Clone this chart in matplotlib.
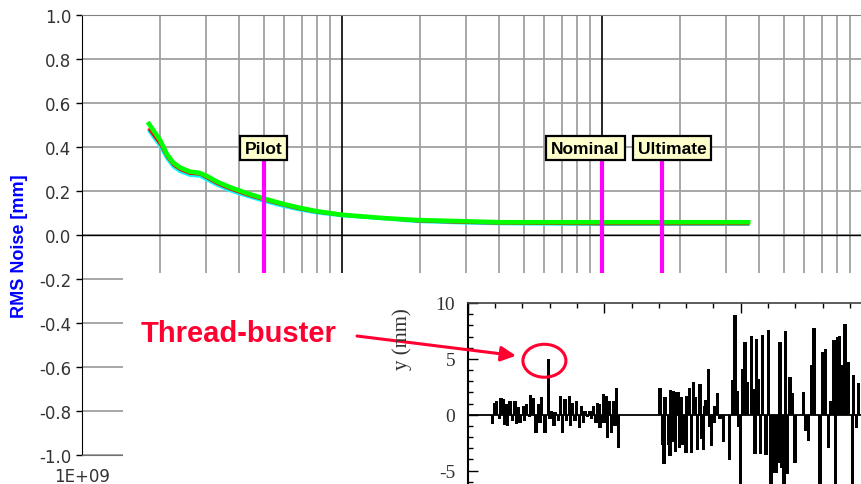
import matplotlib
matplotlib.use("Agg")
import matplotlib.pyplot as plt
from matplotlib.patches import Rectangle, Ellipse
from matplotlib.ticker import FixedLocator, NullFormatter, MultipleLocator

# main chart: RMS noise vs (log) x
noise_x = [1.81e9, 2.0e9, 2.12e9, 2.24e9, 2.38e9, 2.60e9, 2.84e9, 3.03e9, 3.31e9, 3.71e9,
           4.31e9, 4.97e9, 5.78e9, 6.72e9, 8.02e9, 1.0e10, 1.44e10, 1.94e10, 3.03e10,
           4.05e10, 9.8e10, 3.65e11]
noise_green = [0.505, 0.43, 0.368, 0.33, 0.307, 0.288, 0.282, 0.267, 0.242, 0.217,
               0.19, 0.167, 0.145, 0.126, 0.108, 0.092, 0.077, 0.068, 0.062, 0.058, 0.058, 0.058]
noise_red = [0.48, 0.41, 0.355, 0.318, 0.296, 0.278, 0.275, 0.257, 0.232, 0.207,
             0.181, 0.159, 0.138, 0.119, 0.102, 0.088, 0.075, 0.062, 0.055, 0.052, 0.049, 0.049]
noise_cyan = [0.472, 0.402, 0.347, 0.31, 0.288, 0.271, 0.267, 0.25, 0.226, 0.201,
              0.176, 0.154, 0.134, 0.116, 0.1, 0.087, 0.074, 0.061, 0.054, 0.051, 0.048, 0.048]

y_ticks = [-1.0, -0.8, -0.6, -0.4, -0.2, 0.0, 0.2, 0.4, 0.6, 0.8, 1.0]
decades = [1e9, 1e10, 1e11]

marker_names = ["Pilot", "Nominal", "Ultimate"]
marker_x = [5.0e9, 1.0e11, 1.7e11]
marker_label_x = [5.0e9, 8.64e10, 1.86e11]
marker_label_y = 0.395

# inset: y (mm) bars
bar_x = [9.0, 10.0, 10.6, 11.6, 12.2, 13.1, 13.4, 14.0, 14.6, 15.5, 16.3, 17.3, 17.9, 18.5,
         19.2, 20.4, 20.7, 21.6, 22.6, 23.1, 24.0, 25.0, 25.9, 26.5, 27.1, 28.3, 29.5, 30.1,
         30.8, 31.6, 32.0, 33.2, 34.1, 34.8, 35.6, 36.3, 37.2, 37.7, 38.5, 39.3, 39.9, 40.9,
         41.7, 42.4, 43.0, 43.8, 44.8, 45.4, 46.0, 47.0, 47.5, 48.2, 48.5, 49.7, 49.9, 50.7,
         51.1, 51.9, 52.7, 53.3, 54.0, 54.6, 55.2,
         70.4, 71.4, 71.9, 72.3, 73.5, 74.1, 74.3, 75.3, 75.6, 76.2, 76.5, 77.2, 77.5, 78.4,
         78.7, 80.0, 80.2, 81.2, 82.0, 82.6, 83.3, 84.1, 85.1, 85.7, 86.3, 86.7, 87.3, 88.1,
         88.5, 89.4, 90.2, 90.6, 91.4, 92.4, 93.6, 95.8, 97.1, 97.9, 98.8, 99.1, 100.0, 100.6,
         101.6, 102.4, 104.0, 104.6, 105.2, 105.8, 106.5, 107.3, 108.0, 109.3, 110.1, 111.1,
         111.9, 112.9, 113.8, 114.4, 115.0, 115.9, 116.5, 117.1, 118.1, 118.9, 119.9, 122.9,
         123.8, 124.8, 126.0, 126.8, 129.0, 130.0, 131.1, 132.1, 132.9, 134.2, 134.8, 135.4,
         136.1, 137.3, 138.2, 139.4, 140.9, 141.2, 142.5, 143.1]
bar_y = [-0.8, 1.05, 1.2, -0.4, 1.5, 1.4, -0.9, 1.0, -1.0, 1.25, -0.55, 1.2, -0.8, 0.65,
         -0.7, 0.8, -0.55, 0.95, -0.25, 1.8, 1.5, -1.65, 1.0, -0.7, 1.55, -1.65, 5.0, -0.4,
         0.35, -1.0, 0.2, -0.55, 1.7, -1.65, 1.4, -0.55, 1.65, -1.0, 1.05, -0.55, 1.25, -1.15,
         0.8, -0.75, 0.35, -0.25, 0.35, -0.4, 0.8, -0.7, 1.05, 0.95, -1.15, 1.85, -0.7, 1.7,
         -2.05, 1.25, -1.6, 1.25, -1.0, 2.35, -2.95,
         2.35, -2.7, -4.45, 1.55, -2.7, -3.7, 2.25, 2.15, -2.4, -3.3, 2.0, 2.0, -3.0, 1.55,
         -2.7, -3.45, 1.7, 2.35, -3.4, 2.9, 1.55, -3.2, 2.75, -2.15, -3.15, 0.8, 1.35, 4.05,
         -1.1, -2.8, -0.7, 0.8, 1.95, -0.35, -2.4, -4.1, 3.1, 8.9, 2.15, -1.1, -7.5, 4.1,
         6.5, 2.9, 7.05, 2.3, -3.55, 6.8, 3.2, -3.55, 7.1, -3.6, 7.55, -7.0,
         -5.2, -5.2, -4.3, 6.5, -4.75, -7.0, 7.5, -5.35, 3.4, 1.9, -4.35, 2.0,
         -1.45, -2.35, 4.45, 7.8, -7.0, 5.6, 5.9, -3.0, 1.2, 6.65, -7.0, 6.95,
         7.05, 4.45, 8.1, 4.7, -7.0, 3.55, -1.2, 2.85]
inset_y_ticks = [-5, 0, 5, 10]

RED = '#ff0030'
W, H = 861, 485

fig = plt.figure(figsize=(W / 100, H / 100), dpi=100)

# ---- main axes ----
ax = fig.add_axes([82 / W, 1 - 456 / H, 780 / W, 440 / H])
ax.set_zorder(0)
ax.set_xscale('log')
ax.set_xlim(1e9, 1e12)
ax.set_ylim(-1, 1)

ax.set_yticks(y_ticks)
ax.set_yticklabels(["{:.1f}".format(v) for v in y_ticks])
ax.xaxis.set_major_locator(FixedLocator([1e9]))
ax.set_xticklabels(["1E+09"])
minor = [m * d for d in decades for m in range(2, 10)]
ax.xaxis.set_minor_locator(FixedLocator(minor))
ax.xaxis.set_minor_formatter(NullFormatter())
ax.tick_params(axis='x', which='both', length=0, pad=9, labelsize=12, labelcolor='#333333')
ax.tick_params(axis='y', direction='out', length=4.5, width=1, labelsize=12,
               labelcolor='#333333', pad=3)

ax.grid(axis='y', which='major', color='#a0a0a0', lw=1.3)
ax.grid(axis='x', which='minor', color='#a0a0a0', lw=1.3)
for d in decades[1:]:
    ax.axvline(d, color='black', lw=1.2, zorder=2)
ax.axhline(0, color='black', lw=1.0, zorder=2)

ax.spines['right'].set_visible(False)
ax.spines['top'].set_color('#808080')
ax.spines['bottom'].set_color('#707070')
ax.spines['left'].set_color('black')

ax.plot(noise_x, noise_cyan, color='#00ffff', lw=2.2, zorder=3)
ax.plot(noise_x, noise_red, color='#ff0000', lw=1.6, zorder=3)
ax.plot(noise_x, noise_green, color='#00ff00', lw=3.3, zorder=3)

ax.vlines(marker_x, -0.35, 0.336, color='#ff00ff', lw=3, zorder=4)
for name, lx in zip(marker_names, marker_label_x):
    ax.text(lx, marker_label_y, name, ha='center', va='center', fontsize=12.5,
            fontweight='bold', family='Liberation Sans', zorder=5,
            bbox=dict(boxstyle='square,pad=0.28', fc='#ffffcc', ec='black', lw=1.6))

fig.text(20 / W, 1 - 246.5 / H, "RMS Noise [mm]", rotation=90, color='#0000ff',
         fontsize=13, fontweight='bold', family='Liberation Sans', ha='center', va='center')

# white cover over the lower part of the main chart
fig.add_artist(Rectangle((123 / W, 0), 1, 1 - 274 / H, transform=fig.transFigure,
                         fc='white', ec='none', zorder=1))

# ---- inset ----
ins = fig.add_axes([467.7 / W, 1 - 527.4 / H, 546 / W, 223.4 / H])
ins.set_zorder(2)
ins.set_xlim(0, 200)
ins.set_ylim(-10, 10)
ins.bar(bar_x, bar_y, width=1.2, color='black', lw=0)
ins.axhline(0, color='black', lw=1.3)

ins.set_yticks(inset_y_ticks)
ins.set_yticklabels([str(v) for v in inset_y_ticks], family='Liberation Serif')
ins.yaxis.set_minor_locator(MultipleLocator(1))
ins.xaxis.set_major_locator(MultipleLocator(50))
ins.xaxis.set_minor_locator(MultipleLocator(10))
ins.tick_params(which='both', direction='in', top=True, right=True, labelbottom=False,
                width=1, color='black')
ins.tick_params(which='major', length=7)
ins.tick_params(which='minor', length=3.5)
ins.tick_params(axis='y', labelsize=14, labelcolor='#333333', pad=9)
ins.spines['left'].set_linewidth(1.5)
ins.spines['top'].set_color('#404040')
ins.spines['top'].set_linewidth(1.2)

fig.text(402 / W, 1 - 339 / H, "y (mm)", rotation=90, family='Liberation Serif',
         fontsize=15, color='#333333', ha='center', va='center', zorder=3)

# thread-buster annotation
fig.text(141 / W, 1 - 341.7 / H, "Thread-buster", color=RED, fontsize=21,
         fontweight='bold', family='Liberation Sans', ha='left', va='baseline', zorder=3)
ins.annotate('', xy=(17.7, 5.28), xycoords='data', xytext=(357, H - 337),
             textcoords='figure pixels', annotation_clip=False,
             arrowprops=dict(arrowstyle='-|>,head_length=0.9,head_width=0.45',
                             color=RED, lw=2.2, shrinkA=0, shrinkB=0))
ins.add_patch(Ellipse((28.1, 4.83), 15.75, 2.95, fill=False, ec=RED, lw=2.2,
                      clip_on=False, zorder=5))

fig.savefig('out.png', dpi=100)
